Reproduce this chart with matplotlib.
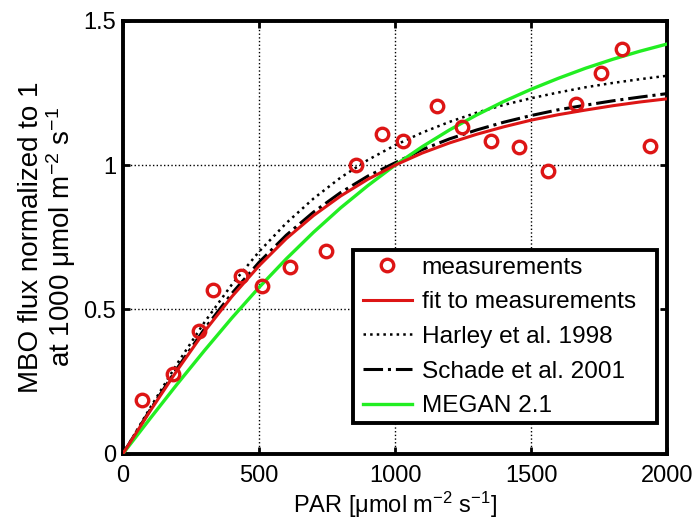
import numpy as np
import matplotlib
matplotlib.use("Agg")
import matplotlib.pyplot as plt
from matplotlib.patches import Rectangle

plt.rcParams['font.family'] = ['Liberation Sans', 'DejaVu Sans']
plt.rcParams['mathtext.fontset'] = 'custom'
plt.rcParams['mathtext.rm'] = 'Liberation Sans'
plt.rcParams['mathtext.it'] = 'Liberation Sans'
plt.rcParams['mathtext.default'] = 'regular'

# measurements
meas_par = [71, 184, 278, 332, 434, 512, 615, 746, 856, 951, 1031, 1154,
            1247, 1354, 1456, 1564, 1664, 1759, 1833, 1937]
meas_flux = [0.185, 0.275, 0.425, 0.568, 0.614, 0.581, 0.646, 0.704, 1.00,
             1.108, 1.085, 1.205, 1.132, 1.085, 1.062, 0.981, 1.213, 1.32,
             1.402, 1.066]

# curves read at 100-unit steps
par_grid = [0, 100, 200, 300, 400, 500, 600, 700, 800, 900, 1000, 1100, 1200,
            1300, 1400, 1500, 1600, 1700, 1800, 1900, 2000]
fit_vals = [0, 0.148, 0.290, 0.424, 0.544, 0.651, 0.745, 0.825, 0.893, 0.951,
            1.000, 1.042, 1.077, 1.107, 1.133, 1.156, 1.175, 1.191, 1.206,
            1.219, 1.230]
harley_vals = [0, 0.159, 0.313, 0.456, 0.586, 0.700, 0.799, 0.884, 0.957,
               1.018, 1.069, 1.113, 1.150, 1.182, 1.209, 1.232, 1.252, 1.270,
               1.285, 1.298, 1.310]
schade_vals = [0, 0.152, 0.297, 0.433, 0.555, 0.663, 0.757, 0.837, 0.905,
               0.962, 1.008, 1.054, 1.091, 1.122, 1.149, 1.172, 1.192, 1.208,
               1.223, 1.236, 1.248]
megan_vals = [0, 0.122, 0.242, 0.358, 0.470, 0.576, 0.675, 0.767, 0.852,
              0.929, 1.000, 1.064, 1.122, 1.174, 1.221, 1.263, 1.301, 1.336,
              1.367, 1.395, 1.420]

xticks = [0, 500, 1000, 1500, 2000]
yticks = [0, 0.5, 1, 1.5]
ytick_labels = ['0', '0.5', '1', '1.5']

RED = '#dd1515'
GREEN = '#22ee22'
FS = 17

fig = plt.figure(figsize=(6.97, 5.24), dpi=100)
ax = fig.add_axes([0.1765, 0.1344, 0.957 - 0.1765, 0.96 - 0.1344])

ax.plot(meas_par, meas_flux, 'o', mfc='none', mec=RED, mew=2.4, ms=9,
        label='measurements', zorder=5)
ax.plot(par_grid, fit_vals, '-', color=RED, lw=2.2, label='fit to measurements', zorder=4)
ax.plot(par_grid, harley_vals, ':', color='black', lw=1.8, label='Harley et al. 1998', zorder=3)
ax.plot(par_grid, schade_vals, '-.', color='black', lw=2.2, label='Schade et al. 2001', zorder=3)
ax.plot(par_grid, megan_vals, '-', color=GREEN, lw=2.4, label='MEGAN 2.1', zorder=3)

ax.set_xlim(0, 2000)
ax.set_ylim(0, 1.5)
ax.set_xticks(xticks)
ax.set_xticklabels([str(t) for t in xticks])
ax.set_yticks(yticks)
ax.set_yticklabels(ytick_labels)
ax.grid(True, linestyle=':', color='black', lw=1.0)
ax.tick_params(direction='in', length=5, width=2, labelsize=FS, top=True, right=True)
ax.tick_params(axis='x', pad=8)
ax.tick_params(axis='y', pad=5)
for s in ax.spines.values():
    s.set_linewidth(2.8)

ax.set_xlabel('PAR [μmol m$^{-2}$ s$^{-1}$]', fontsize=FS, labelpad=2)
ax.set_ylabel('MBO flux normalized to 1\nat 1000 μmol m$^{-2}$ s$^{-1}$', fontsize=20,
              labelpad=4, linespacing=1.0)

# legend box (white, black frame) drawn behind a frameless legend
box = Rectangle((0.423, 0.0707), 0.982 - 0.423, 0.4706 - 0.0707,
                transform=ax.transAxes, facecolor='white', edgecolor='black',
                linewidth=2.8, zorder=6)
ax.add_patch(box)

leg = ax.legend(loc='upper left', bbox_to_anchor=(0.441, 0.455), fontsize=17.6,
                frameon=False, handlelength=2.0, handletextpad=0.4,
                labelspacing=0.51, borderpad=0.0, borderaxespad=0.0)
leg.set_zorder(7)

fig.savefig('out.png', dpi=100)
